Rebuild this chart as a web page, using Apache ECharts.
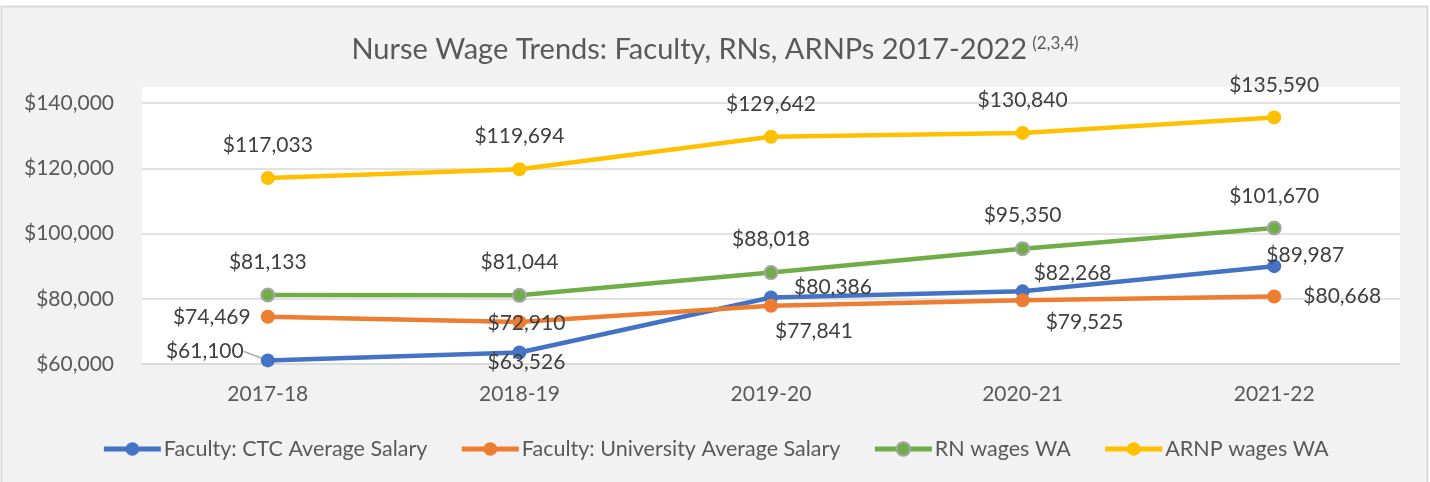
<!DOCTYPE html>
<html>
<head>
<meta charset="utf-8">
<script src="https://cdn.jsdelivr.net/npm/echarts@6/dist/echarts.min.js"></script>
<style>
  html, body { margin: 0; padding: 0; background: #fff; }
  #chart { width: 1430px; height: 482px; }
</style>
</head>
<body>
<div id="chart"></div>
<script>
// data
const categories = ['2017-18', '2018-19', '2019-20', '2020-21', '2021-22']
const ctcSalary = [61100, 63526, 80386, 82268, 89987]
const universitySalary = [74469, 72910, 77841, 79525, 80668]
const rnWages = [81133, 81044, 88018, 95350, 101670]
const arnpWages = [117033, 119694, 129642, 130840, 135590]
const yTicks = { min: 60000, max: 140000, step: 20000 }

// label offsets (dx, dy from the marker), layout only
const ctcOffsets = [[-63, -9], [7, 10], [62, -10], [50, -18], [31, -11]]
const uniOffsets = [[-56, 0], [7, 1], [43, 25], [62, 22], [68, 0]]
const topOffsets = [[0, -33], [0, -33], [0, -33], [0, -33], [0, -32]]

const FONT = 'Lato, "Open Sans", sans-serif'
const money = (v) => '$' + Number(v).toLocaleString('en-US')

const chart = echarts.init(document.getElementById('chart'))

const withLabels = (values, offsets, extra) =>
  values.map((v, i) => {
    const item = {
      value: v,
      label: { offset: offsets[i] },
    }
    if (extra && extra[i]) Object.assign(item, extra[i])
    return item
  })

const makeSeries = (name, color, values, offsets, extra, symbolBorder) => ({
  name: name,
  type: 'line',
  data: withLabels(values, offsets, extra),
  symbol: 'circle',
  symbolSize: symbolBorder ? 13 : 14,
  lineStyle: { color: color, width: 4.5 },
  itemStyle: symbolBorder
    ? { color: color, borderColor: '#a5a5a5', borderWidth: 2 }
    : { color: color, borderWidth: 0 },
  label: {
    show: true,
    position: 'inside',
    align: 'center',
    verticalAlign: 'middle',
    formatter: (p) => money(p.value),
    color: '#404040',
    fontSize: 21,
    fontFamily: FONT,
  },
  emphasis: { disabled: true },
  animation: false,
})

const option = {
  backgroundColor: '#ffffff',
  animation: false,
  graphic: [
    {
      type: 'rect',
      z: -20,
      shape: { x: 1.5, y: 6.5, width: 1426, height: 480 },
      style: { fill: '#f2f2f2', stroke: '#d9d9d9', lineWidth: 2 },
    },
    {
      type: 'rect',
      z: -10,
      shape: { x: 142, y: 87, width: 1258, height: 277 },
      style: { fill: '#ffffff' },
    },
  ],
  title: {
    left: 'center',
    top: 30,
    text: '{main|Nurse Wage Trends: Faculty, RNs, ARNPs 2017-2022} {sup|(2,3,4)}',
    textStyle: {
      rich: {
        main: { fontSize: 29, fontWeight: 'normal', color: '#595959', fontFamily: FONT },
        sup: {
          fontSize: 17,
          fontWeight: 'normal',
          color: '#595959',
          fontFamily: FONT,
          padding: [0, 0, 12, 0],
        },
      },
    },
  },
  legend: {
    top: 433,
    left: 'center',
    itemWidth: 57,
    itemHeight: 17,
    itemGap: 32,
    lineStyle: { width: 5 },
    textStyle: { fontSize: 21.5, color: '#595959', fontFamily: FONT, padding: [0, 0, 0, -2] },
    data: [
      'Faculty: CTC Average Salary',
      'Faculty: University Average Salary',
      'RN wages WA',
      'ARNP wages WA',
    ],
  },
  grid: {
    left: 142,
    right: 30,
    top: 103,
    bottom: 118,
    containLabel: false,
  },
  xAxis: {
    type: 'category',
    data: categories,
    boundaryGap: true,
    axisLine: { lineStyle: { color: '#d9d9d9', width: 1.5 } },
    axisTick: { show: false },
    axisLabel: { color: '#595959', fontSize: 21, fontFamily: FONT, margin: 20 },
  },
  yAxis: {
    type: 'value',
    min: yTicks.min,
    max: yTicks.max,
    interval: yTicks.step,
    axisLine: { show: false },
    axisTick: { show: false },
    axisLabel: {
      color: '#595959',
      fontSize: 21,
      fontFamily: FONT,
      margin: 28,
      formatter: money,
    },
    splitLine: { lineStyle: { color: '#d9d9d9', width: 1.5 } },
  },
  series: [
    makeSeries('Faculty: CTC Average Salary', '#4472c4', ctcSalary, ctcOffsets, {
      0: { labelLine: { show: true, lineStyle: { color: '#a6a6a6', width: 1.5 } } },
    }),
    makeSeries('Faculty: University Average Salary', '#ed7d31', universitySalary, uniOffsets),
    makeSeries('RN wages WA', '#70ad47', rnWages, topOffsets, null, true),
    makeSeries('ARNP wages WA', '#ffc000', arnpWages, topOffsets),
  ],
}

chart.setOption(option)
</script>
</body>
</html>
